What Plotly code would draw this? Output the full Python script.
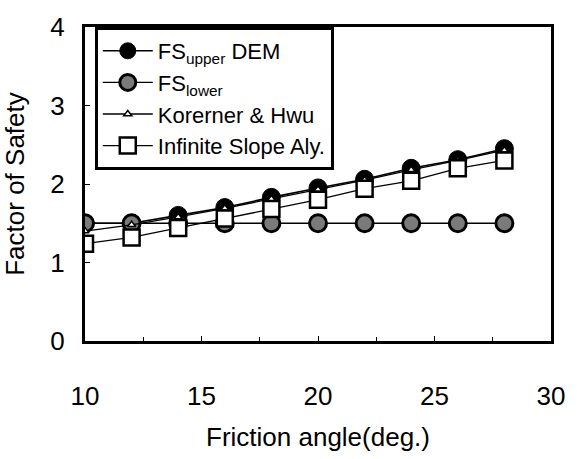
import plotly.graph_objects as go

friction = [10, 12, 14, 16, 18, 20, 22, 24, 26, 28]
fs_upper = [1.50, 1.50, 1.60, 1.70, 1.83, 1.95, 2.06, 2.20, 2.31, 2.45]
fs_lower = [1.50, 1.50, 1.50, 1.50, 1.50, 1.50, 1.50, 1.50, 1.50, 1.50]
koerner = [1.40, 1.48, 1.58, 1.69, 1.81, 1.93, 2.05, 2.18, 2.30, 2.43]
infinite = [1.24, 1.32, 1.44, 1.56, 1.68, 1.80, 1.94, 2.04, 2.20, 2.30]

names = ["FS<sub>upper</sub> DEM", "FS<sub>lower</sub>", "Korerner & Hwu", "Infinite Slope Aly."]

FONT = "Liberation Sans, Arial, sans-serif"

fig = go.Figure()
fig.add_trace(go.Scatter(x=friction, y=fs_upper, name=names[0], mode="lines+markers",
                         line=dict(color="black", width=1.6),
                         marker=dict(symbol="circle", size=18, color="black",
                                     line=dict(color="black", width=1))))
fig.add_trace(go.Scatter(x=friction, y=fs_lower, name=names[1], mode="lines+markers",
                         line=dict(color="black", width=1.3),
                         marker=dict(symbol="circle", size=17, color="#7a7a7a",
                                     line=dict(color="black", width=3))))
fig.add_trace(go.Scatter(x=friction, y=koerner, name=names[2], mode="lines+markers",
                         line=dict(color="black", width=1.3),
                         marker=dict(symbol="triangle-up", size=7, color="white",
                                     line=dict(color="black", width=1.5))))
fig.add_trace(go.Scatter(x=friction, y=infinite, name=names[3], mode="lines+markers",
                         line=dict(color="black", width=1.3),
                         marker=dict(symbol="square", size=16, color="white",
                                     line=dict(color="black", width=2.5))))

fig.update_layout(
    width=577, height=459,
    margin=dict(l=85, r=20, t=18, b=111),
    paper_bgcolor="white", plot_bgcolor="white",
    font=dict(family=FONT, size=26, color="black"),
    showlegend=True,
    legend=dict(x=0.021, y=1.0, xanchor="left", yanchor="top",
                bgcolor="white", bordercolor="black", borderwidth=3,
                font=dict(size=22), traceorder="normal",
                tracegroupgap=0, itemwidth=50),
    xaxis=dict(range=[10, 30], dtick=5, tick0=10, showgrid=False, zeroline=False,
               showline=True, linecolor="black", linewidth=3, mirror=True,
               ticks="inside", ticklen=5, tickcolor="black",
               ticklabelstandoff=30,
               minor=dict(dtick=2.5, ticks="inside", ticklen=4, tickcolor="black"),
               title=dict(text="Friction angle(deg.)", standoff=18,
                          font=dict(size=26)),
               fixedrange=True),
    yaxis=dict(range=[0, 4], dtick=1, showgrid=False, zeroline=False,
               showline=True, linecolor="black", linewidth=3, mirror=True,
               ticks="inside", ticklen=5, tickcolor="black",
               ticklabelstandoff=12,
               title=dict(text="Factor of Safety", standoff=20, font=dict(size=26)),
               fixedrange=True),
)

fig.write_html("out.html")
